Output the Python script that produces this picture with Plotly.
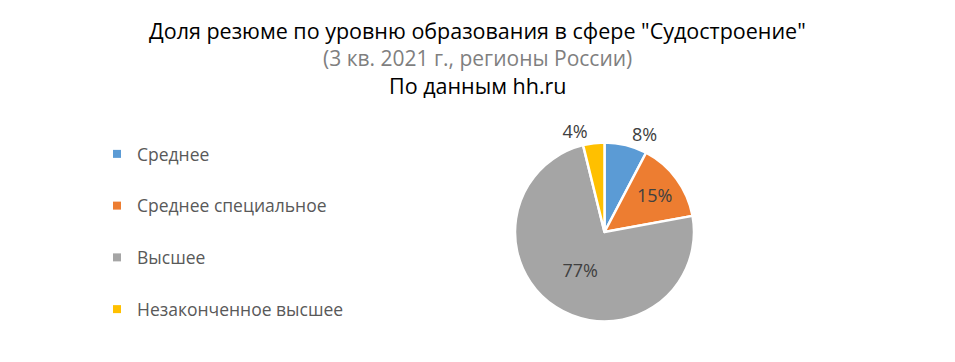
import plotly.graph_objects as go

categories = ["Среднее", "Среднее специальное", "Высшее", "Незаконченное высшее"]
values = [8, 15, 77, 4]
colors = ["#5B9BD5", "#ED7D31", "#A5A5A5", "#FFC000"]
label_positions = ["outside", "inside", "inside", "outside"]

title_lines = [
    ("Доля резюме по уровню образования в сфере \"Судостроение\"", "#000000", 21.5),
    ("(3 кв. 2021 г., регионы России)", "#7F7F7F", 21),
    ("По данным hh.ru", "#000000", 21.5),
]

W, H = 955, 362
cx, cy, r = 604.5, 232, 89.5

fig = go.Figure()
fig.add_trace(go.Pie(
    labels=categories,
    values=values,
    sort=False,
    direction="clockwise",
    rotation=0,
    marker=dict(colors=colors, line=dict(color="white", width=2.5)),
    text=[f"{v}%" for v in values],
    texttemplate="%{text}",
    textposition=label_positions,
    insidetextorientation="horizontal",
    textfont=dict(family="Open Sans", size=18, color="#404040"),
    outsidetextfont=dict(family="Open Sans", size=18, color="#404040"),
    insidetextfont=dict(family="Open Sans", size=18, color="#404040"),
    showlegend=False,
    hoverinfo="label+percent",
    domain=dict(x=[(cx - r) / W, (cx + r) / W], y=[(H - cy - r) / H, (H - cy + r) / H]),
))

for i, (cat, col) in enumerate(zip(categories, colors)):
    fig.add_trace(go.Scatter(
        x=[None], y=[None], mode="markers", name=cat,
        marker=dict(symbol="square", size=8, color=col),
        legendgroup=f"g{i}", showlegend=True,
    ))

title_y = [30, 58, 86]
for (txt, col, sz), yy in zip(title_lines, title_y):
    fig.add_annotation(
        text=txt, x=0.5, y=1 - yy / H, xref="paper", yref="paper",
        xanchor="center", yanchor="middle", showarrow=False,
        font=dict(family="Open Sans", size=sz, color=col),
    )

fig.update_layout(
    width=W, height=H,
    margin=dict(l=0, r=0, t=0, b=0),
    paper_bgcolor="white", plot_bgcolor="white",
    xaxis=dict(visible=False), yaxis=dict(visible=False),
    legend=dict(
        x=97 / W, y=1 - 136 / H, xanchor="left", yanchor="top",
        font=dict(family="Open Sans", size=17.5, color="#595959"),
        tracegroupgap=26, traceorder="grouped",
        bgcolor="rgba(0,0,0,0)",
    ),
)

fig.write_html("out.html")
